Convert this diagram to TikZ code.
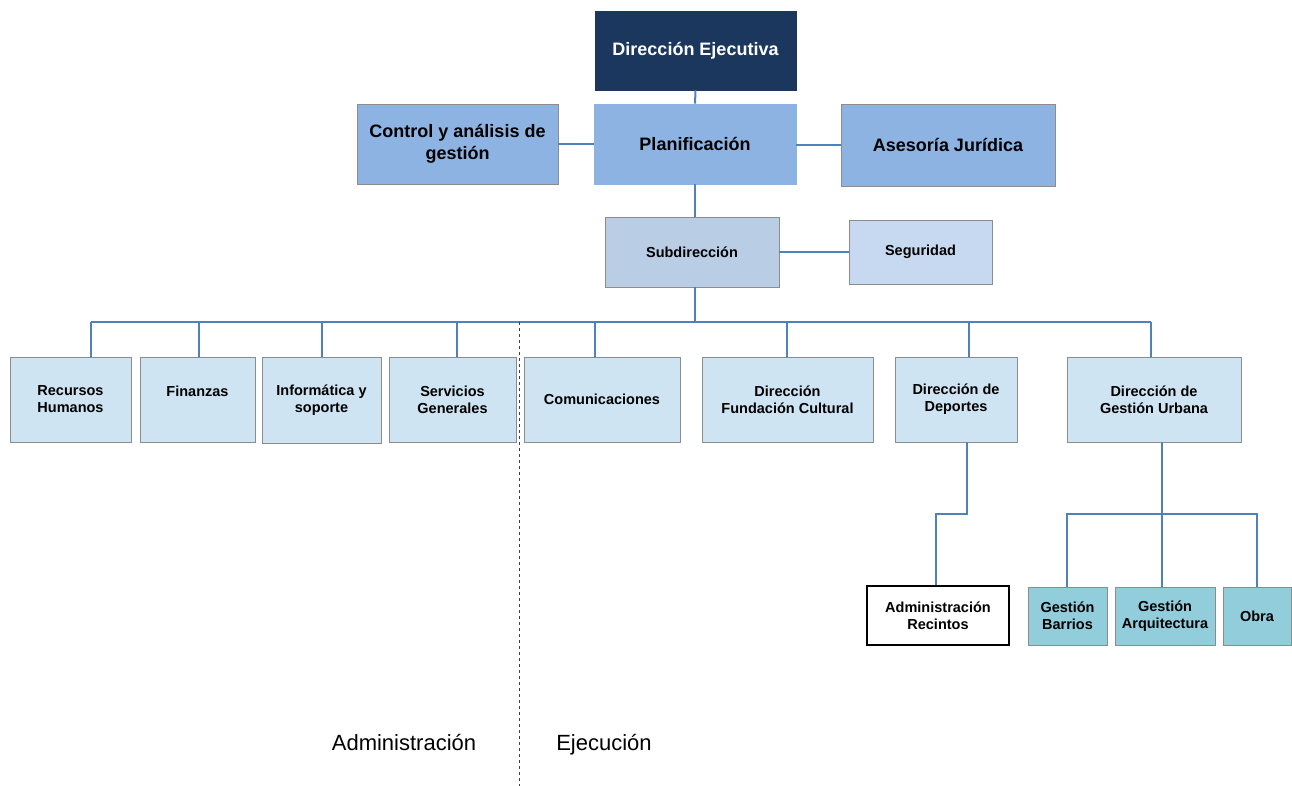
\documentclass[tikz,border=0pt]{standalone}
\usepackage{fontspec}
\setmainfont{Liberation Sans}
\begin{document}
\begin{tikzpicture}[x=1pt,y=-1pt,
  box/.style={draw=black!45, line width=0.8pt, inner sep=1pt, align=center, font=\bfseries\fontsize{14.5}{17}\selectfont},
  bigbox/.style={box, font=\bfseries\fontsize{18}{22}\selectfont},
  link/.style={draw=linkblue, line width=2pt},
  lbl/.style={font=\fontsize{22}{26}\selectfont, inner sep=0pt, anchor=base}
]
\definecolor{navy}{HTML}{1B375E}
\definecolor{lvlA}{HTML}{8DB3E2}
\definecolor{lvlB}{HTML}{B9CDE5}
\definecolor{lvlC}{HTML}{C6D9F1}
\definecolor{rowc}{HTML}{CFE4F2}
\definecolor{teal}{HTML}{92CDDC}
\definecolor{linkblue}{HTML}{4F81BD}
\useasboundingbox (0,0) rectangle (1292,786);

% top levels
\node[bigbox, fill=navy, draw=navy, text=white, minimum width=201pt, minimum height=79pt] (dirE) at (695.5,50.5) {Dirección Ejecutiva};
\node[bigbox, fill=lvlA, draw=lvlA, minimum width=202pt, minimum height=80pt] (plan) at (695,144) {Planificación};
\node[bigbox, fill=lvlA, minimum width=201pt, minimum height=80pt] (ctrl) at (457.5,144) {Control y análisis de\\gestión};
\node[bigbox, fill=lvlA, minimum width=214pt, minimum height=82pt] (ases) at (948,145) {Asesoría Jurídica};
\node[box, fill=lvlB, minimum width=174pt, minimum height=70pt] (sub) at (692,252) {Subdirección};
\node[box, fill=lvlC, minimum width=143pt, minimum height=64pt] (seg) at (920.5,252) {Seguridad};

% row
\node[box, fill=rowc, minimum width=121pt, minimum height=85pt] (rh) at (70.5,399.5) {Recursos\\Humanos};
\node[box, fill=rowc, minimum width=115pt, minimum height=85pt] (fin) at (197.5,399.5) {Finanzas\\\phantom{X}};
\node[box, fill=rowc, minimum width=119pt, minimum height=86pt] (inf) at (321.5,400) {Informática y\\soporte};
\node[box, fill=rowc, minimum width=127pt, minimum height=85pt] (ser) at (452.5,399.5) {Servicios\\Generales};
\node[box, fill=rowc, minimum width=156pt, minimum height=85pt] (com) at (602,399.5) {Comunicaciones};
\node[box, fill=rowc, minimum width=171pt, minimum height=85pt] (fund) at (787.5,399.5) {Dirección\\Fundación Cultural};
\node[box, fill=rowc, minimum width=122pt, minimum height=85pt] (dep) at (956,399.5) {Dirección de\\Deportes};
\node[box, fill=rowc, minimum width=174pt, minimum height=85pt] (urb) at (1154,399.5) {Dirección de\\Gestión Urbana};

% bottom
\node[box, fill=white, draw=black, line width=1.2pt, minimum width=142pt, minimum height=59pt] (adm) at (938,615.5) {Administración\\Recintos};
\node[box, fill=teal, minimum width=79pt, minimum height=58pt] (gb) at (1067.5,616) {Gestión\\Barrios};
\node[box, fill=teal, minimum width=100pt, minimum height=58pt] (ga) at (1165,616) {Gestión\\Arquitectura};
\node[box, fill=teal, minimum width=68pt, minimum height=58pt] (obra) at (1257,616) {Obra};

% labels
\node[lbl] (tA) at (404,750) {Administración};
\node[lbl] (tE) at (604,750) {Ejecución};

% coordinates
\coordinate (d1) at (91,322);
\coordinate (d2) at (199,322);
\coordinate (d3) at (322,322);
\coordinate (d4) at (457,322);
\coordinate (d5) at (595,322);
\coordinate (d6) at (787,322);
\coordinate (d7) at (969,322);
\coordinate (d8) at (1151,322);
\coordinate (k1) at (967,514);
\coordinate (k2) at (936,514);
\coordinate (u0) at (1162,514);
\coordinate (u1) at (1067,514);
\coordinate (u3) at (1257,514);
\coordinate (dashT) at (519,322);
\coordinate (dashB) at (519,786);

% connectors
\draw[link] (dirE.south) -- (plan.north);
\draw[link] (ctrl.east) -- (ctrl.east -| plan.west);
\draw[link] (plan.east |- ases.west) -- (ases.west);
\draw[link] (plan.south) -- (plan.south |- sub.north);
\draw[link] (sub.east) -- (sub.east -| seg.west);
\draw[link] (sub.south -| plan.south) -- (d1 -| plan.south);
\draw[link] (d1) -- (d8);
\foreach \d/\n in {d1/rh,d2/fin,d3/inf,d4/ser,d5/com,d6/fund,d7/dep,d8/urb}
  \draw[link] (\d) -- (\d |- \n.north);
\draw[link] (k1 |- dep.south) -- (k1) -- (k2) -- (k2 |- adm.north);
\draw[link] (u0 |- urb.south) -- (u0 |- ga.north);
\draw[link] (u1 |- gb.north) -- (u1) -- (u3) -- (u3 |- obra.north);
\draw[black!75, dashed, line width=0.7pt] (dashT) -- (dashB);
\end{tikzpicture}
\end{document}
